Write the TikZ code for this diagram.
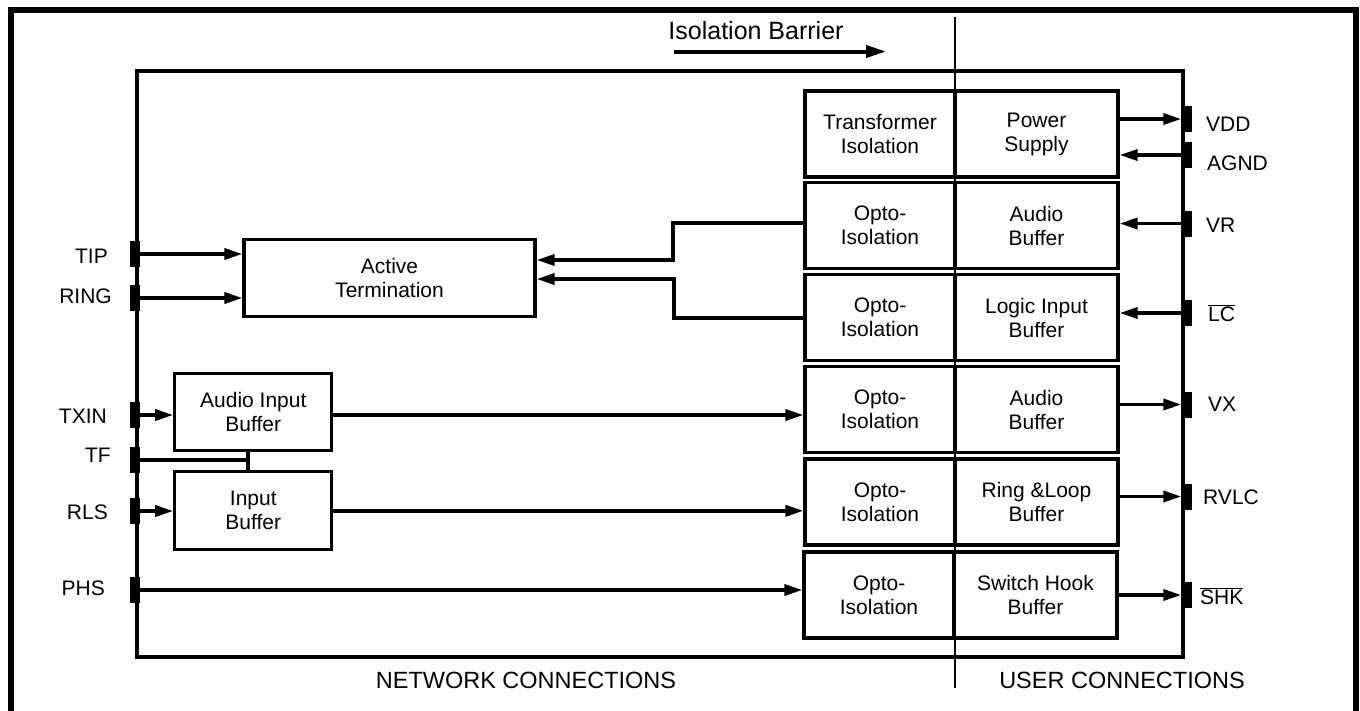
\documentclass[tikz,border=0pt]{standalone}
\usepackage{fontspec}
\setmainfont{Liberation Sans}
\usetikzlibrary{arrows.meta}
\begin{document}
\begin{tikzpicture}[x=1pt,y=-1pt,
  txt/.style={font=\fontsize{21}{24}\selectfont},
  box/.style={draw, line width=3.2pt, inner sep=0pt, align=center, txt},
  lcell/.style={box, minimum width=150pt, minimum height=86pt},
  rcell/.style={box, minimum width=163pt, minimum height=86pt},
  pin/.style={fill=black, draw=none, minimum width=10pt, minimum height=26pt, inner sep=0pt},
  arr/.style={line width=3.5pt, -{Triangle[length=18pt,width=11pt]}},
  wire/.style={line width=3.5pt},
  lab/.style={txt, inner sep=0pt}
]
\useasboundingbox (0,0) rectangle (1360,710);
% outer frame
\draw[line width=6pt] (11,730) -- (11,9.7) -- (1355.5,9.7) -- (1355.5,730);
% chip outline
\node[draw, line width=4pt, minimum width=1046pt, minimum height=585.7pt, inner sep=0pt] (chip) at (660,363.85) {};
% isolation barrier
\coordinate (bt) at (955,17);
\coordinate (bb) at (955,688);
\draw[line width=2.5pt] (bt) -- (bb);
\node[font=\fontsize{25}{30}\selectfont] (ibl) at (756,31) {Isolation Barrier};
\coordinate (ia1) at (674,51.5);
\coordinate (ia2) at (886,51.5);
\draw[line width=4pt, -{Triangle[length=20pt,width=12pt]}] (ia1) -- (ia2);

% isolation cells
\node[lcell] (o1) at (880,134) {Transformer\\Isolation};
\node[rcell] (p1) at (1036.5,134) {Power\\Supply};
\node[lcell] (o2) at (880,225.5) {Opto-\\Isolation};
\node[rcell] (p2) at (1036.5,225.5) {Audio\\Buffer};
\node[lcell] (o3) at (880,317.5) {Opto-\\Isolation};
\node[rcell] (p3) at (1036.5,317.5) {Logic Input\\Buffer};
\node[lcell] (o4) at (880,409.5) {Opto-\\Isolation};
\node[rcell] (p4) at (1036.5,409.5) {Audio\\Buffer};
\node[lcell] (o5) at (880,502) {Opto-\\Isolation};
\node[rcell] (p5) at (1036.5,502) {Ring \&Loop\\Buffer};
\node[lcell] (o6) at (879,595) {Opto-\\Isolation};
\node[rcell] (p6) at (1035.5,595) {Switch Hook\\Buffer};

% network side blocks
\node[box, minimum width=291pt, minimum height=77pt] (at) at (389.5,278) {Active\\Termination};
\node[box, minimum width=157pt, minimum height=77pt] (aib) at (253.3,412.3) {Audio Input\\Buffer};
\node[box, minimum width=157pt, minimum height=78pt] (ib) at (253.3,510.8) {Input\\Buffer};

% left pins
\node[pin] (tip) at (134.5,254) {};
\node[pin] (ring) at (134.5,298) {};
\node[pin] (txin) at (134.5,415) {};
\node[pin] (tf) at (134.5,460) {};
\node[pin] (rls) at (134.5,511) {};
\node[pin] (phs) at (134.5,590) {};
\node[lab, anchor=east] at (108,256) {TIP};
\node[lab, anchor=east] at (112,296) {RING};
\node[lab, anchor=east] at (107,416) {TXIN};
\node[lab, anchor=east] at (111,455) {TF};
\node[lab, anchor=east] at (108,512) {RLS};
\node[lab, anchor=east] at (105,588) {PHS};

% right pins
\node[pin] (vdd) at (1186.5,119) {};
\node[pin] (agnd) at (1186.5,155) {};
\node[pin] (vr) at (1186.5,223.5) {};
\node[pin] (lc) at (1186.5,313) {};
\node[pin] (vx) at (1186.5,404.5) {};
\node[pin] (rvlc) at (1186.5,496.5) {};
\node[pin] (shk) at (1186.5,595) {};
\node[lab, anchor=west] at (1206,124) {VDD};
\node[lab, anchor=west] at (1207,163) {AGND};
\node[lab, anchor=west] at (1206,225) {VR};
\node[lab, anchor=west] at (1208,313) {$\overline{\hbox{LC}}$};
\node[lab, anchor=west] at (1208,404) {VX};
\node[lab, anchor=west] at (1203,497) {RVLC};
\node[lab, anchor=west] at (1200,596) {$\overline{\hbox{SHK}}$};

% left connections
\draw[arr] (tip.center) -- (tip -| at.west);
\draw[arr] (ring.center) -- (ring -| at.west);
\draw[arr] (txin.center) -- (txin -| aib.west);
\draw[arr] (rls.center) -- (rls -| ib.west);
\coordinate (tfj) at (248,459);
\draw[wire] (tf.center) -- (tf -| tfj);
\draw[wire] (tfj |- aib.south) -- (tfj |- ib.north);
\draw[arr] (txin -| aib.east) -- (txin -| o4.west);
\draw[arr] (ib.east) -- (ib.east -| o5.west);
\draw[arr] (phs.center) -- (phs -| o6.west);

% opto to active termination
\coordinate (j1) at (673,260);
\coordinate (j2) at (674,279);
\coordinate (s1) at (805,223);
\coordinate (s2) at (805,318);
\draw[arr] (s1) -| (j1) -- (j1 -| at.east);
\draw[arr] (s2) -| (j2) -- (j2 -| at.east);

% right connections
\draw[arr] (vdd -| p1.east) -- (vdd.west);
\draw[arr] (agnd.west) -- (agnd -| p1.east);
\draw[arr] (vr.west) -- (vr -| p2.east);
\draw[arr] (lc.west) -- (lc -| p3.east);
\draw[arr] (vx -| p4.east) -- (vx.west);
\draw[arr] (rvlc -| p5.east) -- (rvlc.west);
\draw[arr] (shk -| p6.east) -- (shk.west);

% bottom labels
\node[font=\fontsize{23.5}{28}\selectfont] (net) at (526,680) {NETWORK CONNECTIONS};
\node[font=\fontsize{23.5}{28}\selectfont] (usr) at (1122,680) {USER CONNECTIONS};
\end{tikzpicture}
\end{document}
